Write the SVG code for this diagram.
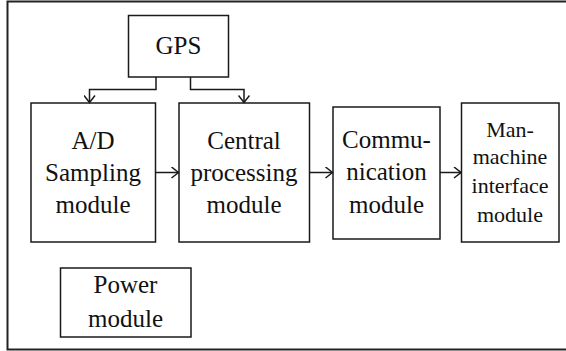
<svg xmlns="http://www.w3.org/2000/svg" width="566" height="351" viewBox="0 0 566 351">
<style>
.box{fill:#fff;stroke:#1a1a1a;stroke-width:1.5}
.frame{fill:none;stroke:#222;stroke-width:2}
text{font-family:'Liberation Serif','Times New Roman',serif;font-size:25px;fill:#111;text-anchor:middle}
text.s{font-size:22px}
.c{fill:none;stroke:#1a1a1a;stroke-width:1.5}
</style>
<defs>
<marker id="ah" viewBox="0 0 10 12" refX="9" refY="6" markerWidth="10" markerHeight="12" markerUnits="userSpaceOnUse" orient="auto">
<path d="M2,0.5 L9,6 L2,11.5" fill="none" stroke="#1a1a1a" stroke-width="1.5"/>
</marker>
</defs>
<rect x="0" y="0" width="566" height="351" fill="#fff"/>
<path class="frame" d="M567,1.5 H7.5 V349.5 H567"/>
<g id="gps"><rect class="box" x="128.5" y="15.5" width="100" height="61.5"/><text x="178.5" y="54">GPS</text></g>
<g id="ad"><rect class="box" x="31" y="103" width="124.5" height="139"/><text x="93" y="149">A/D</text><text x="93" y="181">Sampling</text><text x="93" y="213">module</text></g>
<g id="cpu"><rect class="box" x="179" y="103" width="130.5" height="139"/><text x="244" y="149">Central</text><text x="244" y="181">processing</text><text x="244" y="213">module</text></g>
<g id="comm"><rect class="box" x="333" y="107" width="107" height="132"/><text x="386.5" y="148">Commu-</text><text x="386.5" y="180">nication</text><text x="386.5" y="212.5">module</text></g>
<g id="hmi"><rect class="box" x="461.5" y="103" width="97.5" height="139"/><text class="s" x="510" y="137">Man-</text><text class="s" x="510" y="164">machine</text><text class="s" x="510" y="192.5">interface</text><text class="s" x="510" y="221.5">module</text></g>
<g id="power"><rect class="box" x="60.5" y="268" width="130.5" height="69"/><text x="125.5" y="293">Power</text><text x="125.5" y="326.5">module</text></g>
<g id="connectors">
<path class="c" d="M156,77 V89.5 H89.5 V102.5" marker-end="url(#ah)"/>
<path class="c" d="M190.5,77 V89.5 H244 V102.5" marker-end="url(#ah)"/>
<path class="c" d="M155.5,172.5 H178.5" marker-end="url(#ah)"/>
<path class="c" d="M309.5,172.5 H332.5" marker-end="url(#ah)"/>
<path class="c" d="M440,172.5 H461" marker-end="url(#ah)"/>
</g>
</svg>
